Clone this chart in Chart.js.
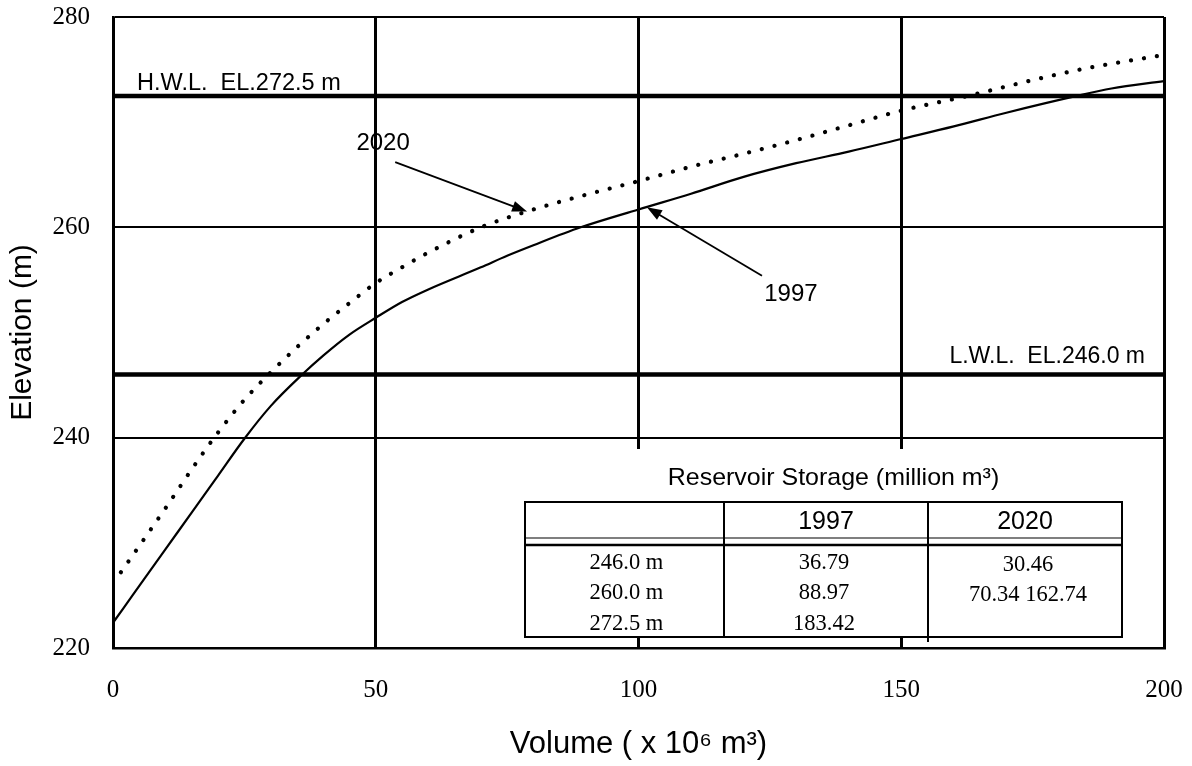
<!DOCTYPE html>
<html><head><meta charset="utf-8">
<script src="https://cdn.jsdelivr.net/npm/chart.js@4.4.1/dist/chart.umd.min.js"></script>
<style>html,body{margin:0;padding:0;background:#fff;overflow:hidden;}</style>
</head><body>
<canvas id="c" width="1192" height="766"></canvas>
<script>
// ---- data ----
const volume1997 = [0, 2, 5, 10, 15, 20, 25, 30, 36, 40, 45, 50, 55, 60, 70, 75, 80, 89, 100, 110, 120, 130, 140, 150, 160, 170, 183.4, 190, 200];
const elev1997   = [222.4, 223.8, 225.9, 229.4, 232.9, 236.4, 239.9, 243.0, 246.0, 247.8, 249.8, 251.4, 252.9, 254.1, 256.2, 257.3, 258.3, 260.0, 261.7, 263.2, 264.8, 266.1, 267.2, 268.4, 269.6, 270.9, 272.5, 273.2, 273.9];
const volume2020 = [1.5, 5, 10, 15, 20, 25, 30, 35, 40, 45, 50, 55, 60, 70, 80, 90, 100, 111, 120, 130, 140, 150, 162.7, 175, 185, 200];
const elev2020   = [227.2, 229.7, 233.3, 237.0, 240.5, 243.6, 246.2, 248.6, 250.8, 252.8, 254.7, 256.2, 257.6, 260.0, 261.7, 263.1, 264.4, 265.9, 267.0, 268.3, 269.7, 271.1, 272.5, 274.0, 275.1, 276.4];
const xTicks = [0, 50, 100, 150, 200];
const yTicks = [220, 240, 260, 280];
const hwlLevel = 272.5;
const lwlLevel = 246.0;
const levelExtent = [0, 200];
const hwlLabel = 'H.W.L.  EL.272.5 m';
const lwlLabel = 'L.W.L.  EL.246.0 m';
const seriesLabels = ['1997', '2020'];
// annotation anchors (data coordinates): label centre, arrow tail, arrow tip
const note2020 = {label: [51.4, 268.0], tail: [53.7, 266.2], tip: [78.8, 261.5]};
const note1997 = {label: [129.0, 253.6], tail: [123.5, 255.4], tip: [101.6, 261.9]};
const tableTitle = 'Reservoir Storage (million m³)';
const tableHeader = ['', '1997', '2020'];
const tableLevels = ['246.0 m', '260.0 m', '272.5 m'];
const storage1997 = ['36.79', '88.97', '183.42'];
const storage2020 = ['30.46', '70.34 162.74', ''];

const toPts = (xs, ys) => xs.map((x, i) => ({x, y: ys[i]}));

function txt(ctx, s, x, y, font, align, base, sx) {
  ctx.save();
  ctx.font = font; ctx.textAlign = align; ctx.textBaseline = base; ctx.fillStyle = '#000';
  ctx.translate(x, y); ctx.scale(sx || 1, 1); ctx.fillText(s, 0, 0);
  ctx.restore();
}
function arrow(ctx, x1, y1, x2, y2) {
  const a = Math.atan2(y2 - y1, x2 - x1), L = 15, W = 5.5;
  ctx.save();
  ctx.strokeStyle = '#000'; ctx.fillStyle = '#000'; ctx.lineWidth = 1.8;
  ctx.beginPath(); ctx.moveTo(x1, y1); ctx.lineTo(x2 - L * 0.6 * Math.cos(a), y2 - L * 0.6 * Math.sin(a)); ctx.stroke();
  ctx.beginPath();
  ctx.moveTo(x2, y2);
  ctx.lineTo(x2 - L * Math.cos(a) + W * Math.sin(a), y2 - L * Math.sin(a) - W * Math.cos(a));
  ctx.lineTo(x2 - L * Math.cos(a) - W * Math.sin(a), y2 - L * Math.sin(a) + W * Math.cos(a));
  ctx.closePath(); ctx.fill();
  ctx.restore();
}

const bgPlugin = {
  id: 'bg',
  beforeDraw(chart) {
    const c = chart.ctx; c.save(); c.fillStyle = '#fff'; c.fillRect(0, 0, chart.width, chart.height); c.restore();
  }
};

const notesPlugin = {
  id: 'notes',
  afterDatasetsDraw(chart) {
    const ctx = chart.ctx, xs = chart.scales.x, ys = chart.scales.y, ca = chart.chartArea;
    const px = v => xs.getPixelForValue(v), py = v => ys.getPixelForValue(v);
    const sans = s => s + 'px "Liberation Sans", Arial, sans-serif';
    const serif = s => s + 'px "Liberation Serif", "Times New Roman", serif';

    // level labels
    txt(ctx, hwlLabel, ca.left + 24, py(hwlLevel) - 6, sans(23.5), 'left', 'alphabetic');
    txt(ctx, lwlLabel, ca.right - 19, py(lwlLevel) - 12, sans(23), 'right', 'alphabetic');

    // series labels with arrows
    [[note2020, seriesLabels[1]], [note1997, seriesLabels[0]]].forEach(([n, s]) => {
      txt(ctx, s, px(n.label[0]), py(n.label[1]), sans(24), 'center', 'middle');
      arrow(ctx, px(n.tail[0]), py(n.tail[1]), px(n.tip[0]), py(n.tip[1]));
    });

    // storage table
    const L = 525, R = 1122, T = 502, B = 637, c1 = 724, c2 = 928;
    ctx.save();
    ctx.fillStyle = '#fff';
    ctx.fillRect(L - 5, 449, R - L + 10, B - 449);
    ctx.restore();
    txt(ctx, tableTitle, (L + R) / 2 + 10, 478, sans(24), 'center', 'middle', 1.04);
    ctx.save();
    ctx.strokeStyle = '#000';
    ctx.lineWidth = 2;
    ctx.strokeRect(L, T, R - L, B - T);
    ctx.beginPath();
    ctx.moveTo(c1, T); ctx.lineTo(c1, B);
    ctx.moveTo(c2, T); ctx.lineTo(c2, B + 5);
    ctx.stroke();
    ctx.lineWidth = 1.2;
    ctx.beginPath(); ctx.moveTo(L, 538); ctx.lineTo(R, 538); ctx.stroke();
    ctx.lineWidth = 2.5;
    ctx.beginPath(); ctx.moveTo(L, 545); ctx.lineTo(R, 545); ctx.stroke();
    ctx.restore();
    const cols = [(L + c1) / 2, (c1 + c2) / 2, (c2 + R) / 2];
    tableHeader.forEach((h, i) => { if (h) txt(ctx, h, cols[i], 522, sans(25), 'center', 'middle'); });
    const rowY = [563, 593, 624];
    tableLevels.forEach((s, i) => txt(ctx, s, cols[0] + 2, rowY[i], serif(22.5), 'center', 'middle'));
    storage1997.forEach((s, i) => txt(ctx, s, cols[1] - 2, rowY[i], serif(22.5), 'center', 'middle'));
    storage2020.forEach((s, i) => { if (s) txt(ctx, s, cols[2] + 3, rowY[i] + 2, serif(22.5), 'center', 'middle'); });
  }
};

new Chart(document.getElementById('c'), {
  type: 'line',
  data: {
    datasets: [
      {label: 'H.W.L.', data: toPts(levelExtent, [hwlLevel, hwlLevel]), borderColor: '#000', borderWidth: 4.5, pointRadius: 0, tension: 0},
      {label: 'L.W.L.', data: toPts(levelExtent, [lwlLevel, lwlLevel]), borderColor: '#000', borderWidth: 4.5, pointRadius: 0, tension: 0},
      {label: seriesLabels[0], data: toPts(volume1997, elev1997), borderColor: '#000', borderWidth: 2.2, pointRadius: 0, cubicInterpolationMode: 'monotone'},
      {label: seriesLabels[1], data: toPts(volume2020, elev2020), borderColor: '#000', borderWidth: 4.2, borderDash: [0.1, 13], borderCapStyle: 'round', pointRadius: 0, cubicInterpolationMode: 'monotone'}
    ]
  },
  options: {
    responsive: false,
    animation: false,
    layout: {padding: {top: 17, right: 28, bottom: 0, left: 0}},
    plugins: {legend: {display: false}, tooltip: {enabled: false}},
    scales: {
      x: {
        type: 'linear', min: 0, max: 200,
        afterBuildTicks: s => { s.ticks = xTicks.map(v => ({value: v})); },
        afterFit: s => { s.height = 118; s.paddingLeft = 0; s.paddingRight = 0; },
        grid: {color: '#000', lineWidth: 3, drawTicks: false},
        border: {color: '#000', width: 2.5},
        ticks: {color: '#000', padding: 27, font: {family: '"Liberation Serif", serif', size: 25}, maxRotation: 0},
        title: {display: true, text: 'Volume ( x 10⁶ m³)', color: '#000', font: {family: '"Liberation Sans", Arial, sans-serif', size: 31}, padding: {top: 0, bottom: 3}}
      },
      y: {
        type: 'linear', min: 220, max: 280,
        afterBuildTicks: s => { s.ticks = yTicks.map(v => ({value: v})); },
        afterFit: s => { s.width = 113; s.paddingTop = 0; s.paddingBottom = 0; },
        grid: {color: '#000', lineWidth: 2, drawTicks: false},
        border: {color: '#000', width: 2.5},
        ticks: {color: '#000', padding: 23, font: {family: '"Liberation Serif", serif', size: 25}},
        title: {display: true, text: 'Elevation (m)', color: '#000', font: {family: '"Liberation Sans", Arial, sans-serif', size: 30}, padding: {top: 5, bottom: 0}}
      }
    }
  },
  plugins: [bgPlugin, notesPlugin]
});
</script>
</body></html>
